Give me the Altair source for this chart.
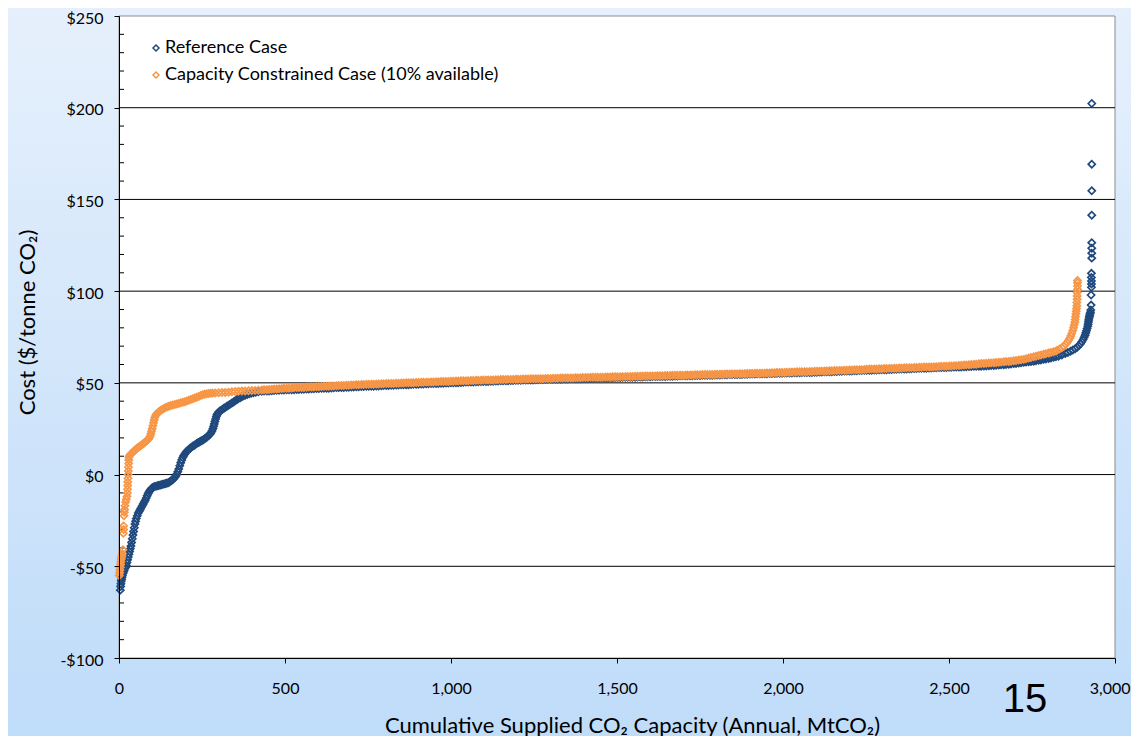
import altair as alt
import pandas as pd

SERIES = ["Reference Case", "Capacity Constrained Case (10% available)"]
COLORS = ["#1F497D", "#F79646"]

# ---- Reference Case (blue) ----
REF_X_START = [4, 5, 6, 7, 8, 9, 10, 12, 14, 16, 18, 20, 22, 24, 26, 28, 30, 32, 34, 36,
               38, 40, 42, 44, 46, 48, 50, 52, 55, 58, 61, 64, 67, 70, 73, 76, 79, 82, 85, 88,
               91, 94, 97, 100, 104, 108, 112, 116, 120, 124, 128, 132, 136, 140, 144, 148, 152, 156, 160, 164,
               168, 171, 174, 177, 180, 183, 186, 189, 192, 195, 198, 202, 206, 210, 214, 218, 222, 226, 230, 234,
               238, 242, 246, 250, 254, 258, 262, 266, 270, 274, 277, 280, 283, 285, 287, 289, 291, 293, 295, 297,
               300, 304, 308, 312, 316, 320, 325, 330, 335, 340, 345, 350, 355, 360, 365, 370, 375, 380, 386, 392,
               398, 405, 412, 420]
REF_Y_START = [-63, -61, -59.5, -58, -57, -56, -55, -54, -53, -52, -51, -50.5, -49.5, -48, -46.5, -45, -43.5, -42, -40.5, -39,
               -37, -35, -33, -31, -29, -27, -25.5, -24, -22.5, -21, -20, -19, -18, -17, -16, -15, -14, -12.8, -11.5, -10.3,
               -9.3, -8.5, -7.8, -7.2, -6.8, -6.5, -6.3, -6.1, -5.9, -5.7, -5.5, -5.3, -5.1, -4.9, -4.7, -4.4, -4.0, -3.5, -3.0, -2.4,
               -1.6, -0.8, 0.2, 1.5, 3, 4.8, 6.5, 8, 9.3, 10.3, 11.2, 12.2, 13, 13.7, 14.3, 14.9, 15.4, 15.9, 16.4, 16.9,
               17.4, 17.8, 18.2, 18.6, 19, 19.5, 20, 20.6, 21.3, 22, 22.8, 23.8, 25, 26.3, 27.6, 29, 30.3, 31.5, 32.5, 33.3,
               34, 34.6, 35.1, 35.6, 36.1, 36.6, 37.2, 37.8, 38.4, 39, 39.6, 40.2, 40.8, 41.4, 41.9, 42.4, 42.9, 43.3, 43.7, 44,
               44.3, 44.6, 44.9, 45.2]

FLAT_X = [430, 445, 460, 475, 490, 505, 520, 535, 550, 565,
          580, 595, 610, 625, 640, 655, 670, 685, 700, 715,
          730, 745, 760, 775, 790, 805, 820, 835, 850, 865,
          880, 895, 910, 925, 940, 955, 970, 985, 1000, 1015,
          1030, 1045, 1060, 1075, 1090, 1105, 1120, 1135, 1150, 1165,
          1180, 1195, 1210, 1225, 1240, 1255, 1270, 1285, 1300, 1315,
          1330, 1345, 1360, 1375, 1390, 1405, 1420, 1435, 1450, 1465,
          1480, 1495, 1510, 1525, 1540, 1555, 1570, 1585, 1600, 1615,
          1630, 1645, 1660, 1675, 1690, 1705, 1720, 1735, 1750, 1765,
          1780, 1795, 1810, 1825, 1840, 1855, 1870, 1885, 1900, 1915,
          1930, 1945, 1960, 1975, 1990, 2005, 2020, 2035, 2050, 2065,
          2080, 2095, 2110, 2125, 2140, 2155, 2170, 2185, 2200, 2215,
          2230, 2245, 2260, 2275, 2290, 2305, 2320, 2335, 2350, 2365,
          2380, 2395, 2410, 2425, 2440, 2455, 2470, 2485, 2500, 2515,
          2530, 2545, 2560, 2575, 2590, 2605, 2620, 2635, 2650, 2665,
          2680, 2695, 2710, 2725, 2740, 2755, 2770, 2785, 2800, 2815]

FLAT_X_B = [437, 452, 467, 482, 497, 512, 527, 542, 557, 572,
            587, 602, 617, 632, 647, 662, 677, 692, 707, 722,
            737, 752, 767, 782, 797, 812, 827, 842, 857, 872,
            887, 902, 917, 932, 947, 962, 977, 992, 1007, 1022,
            1037, 1052, 1067, 1082, 1097, 1112, 1127, 1142, 1157, 1172,
            1187, 1202, 1217, 1232, 1247, 1262, 1277, 1292, 1307, 1322,
            1337, 1352, 1367, 1382, 1397, 1412, 1427, 1442, 1457, 1472,
            1487, 1502, 1517, 1532, 1547, 1562, 1577, 1592, 1607, 1622,
            1637, 1652, 1667, 1682, 1697, 1712, 1727, 1742, 1757, 1772,
            1787, 1802, 1817, 1832, 1847, 1862, 1877, 1892, 1907, 1922,
            1937, 1952, 1967, 1982, 1997, 2012, 2027, 2042, 2057, 2072,
            2087, 2102, 2117, 2132, 2147, 2162, 2177, 2192, 2207, 2222,
            2237, 2252, 2267, 2282, 2297, 2312, 2327, 2342, 2357, 2372,
            2387, 2402, 2417, 2432, 2447, 2462, 2477, 2492, 2507, 2522,
            2537, 2552, 2567, 2582, 2597, 2612, 2627, 2642, 2657, 2672,
            2687, 2702, 2717, 2732, 2747, 2762, 2777, 2792, 2807, 2822]

REF_Y_FLAT = [45.4, 45.6, 45.7, 45.9, 46.1, 46.2, 46.3, 46.4, 46.5, 46.6,
              46.8, 46.9, 47.0, 47.1, 47.2, 47.4, 47.5, 47.6, 47.7, 47.9,
              48.0, 48.1, 48.2, 48.3, 48.4, 48.6, 48.7, 48.8, 48.9, 49.0,
              49.1, 49.3, 49.4, 49.5, 49.6, 49.7, 49.8, 49.9, 50.0, 50.1,
              50.2, 50.4, 50.5, 50.6, 50.7, 50.8, 50.9, 51.0, 51.1, 51.2,
              51.3, 51.4, 51.4, 51.5, 51.6, 51.7, 51.8, 51.8, 51.9, 52.0,
              52.0, 52.1, 52.2, 52.3, 52.3, 52.4, 52.5, 52.6, 52.6, 52.7,
              52.8, 52.9, 52.9, 53.0, 53.1, 53.1, 53.2, 53.3, 53.3, 53.4,
              53.5, 53.5, 53.6, 53.7, 53.8, 53.8, 53.9, 54.0, 54.0, 54.1,
              54.2, 54.3, 54.3, 54.4, 54.5, 54.5, 54.6, 54.7, 54.8, 54.8,
              54.9, 55.0, 55.1, 55.1, 55.2, 55.3, 55.4, 55.5, 55.5, 55.6,
              55.7, 55.8, 55.9, 56.0, 56.1, 56.2, 56.3, 56.4, 56.5, 56.6,
              56.7, 56.8, 56.9, 57.0, 57.1, 57.2, 57.3, 57.4, 57.5, 57.6,
              57.7, 57.8, 57.9, 58.0, 58.1, 58.2, 58.3, 58.4, 58.5, 58.6,
              58.7, 58.8, 58.9, 59.0, 59.1, 59.2, 59.3, 59.5, 59.7, 59.9,
              60.2, 60.5, 60.8, 61.2, 61.5, 61.8, 62.3, 62.8, 63.3, 63.9]

REF_Y_FLAT_B = [45.5, 45.6, 45.8, 46.0, 46.1, 46.2, 46.3, 46.4, 46.5, 46.7,
                46.8, 46.9, 47.0, 47.1, 47.3, 47.4, 47.5, 47.6, 47.8, 47.9,
                48.0, 48.1, 48.2, 48.3, 48.5, 48.6, 48.7, 48.8, 48.9, 49.0,
                49.2, 49.3, 49.4, 49.5, 49.6, 49.7, 49.8, 49.9, 50.0, 50.1,
                50.3, 50.4, 50.5, 50.6, 50.7, 50.8, 50.9, 51.0, 51.1, 51.2,
                51.3, 51.4, 51.5, 51.5, 51.6, 51.7, 51.8, 51.9, 51.9, 52.0,
                52.1, 52.1, 52.2, 52.3, 52.4, 52.4, 52.5, 52.6, 52.7, 52.7,
                52.8, 52.9, 53.0, 53.0, 53.1, 53.2, 53.2, 53.3, 53.4, 53.4,
                53.5, 53.6, 53.6, 53.7, 53.8, 53.9, 53.9, 54.0, 54.1, 54.1,
                54.2, 54.3, 54.4, 54.4, 54.5, 54.6, 54.6, 54.7, 54.8, 54.9,
                54.9, 55.0, 55.1, 55.2, 55.2, 55.3, 55.4, 55.5, 55.6, 55.6,
                55.7, 55.8, 55.9, 56.0, 56.1, 56.2, 56.3, 56.4, 56.5, 56.6,
                56.7, 56.8, 56.9, 57.0, 57.1, 57.2, 57.3, 57.4, 57.5, 57.6,
                57.7, 57.8, 57.9, 58.0, 58.1, 58.2, 58.3, 58.4, 58.5, 58.6,
                58.7, 58.8, 58.9, 59.0, 59.1, 59.2, 59.4, 59.6, 59.8, 60.0,
                60.3, 60.6, 61.0, 61.3, 61.6, 62.0, 62.5, 63.0, 63.6, 64.2]

REF_X_END = [2830, 2840, 2850, 2858, 2866, 2873, 2880, 2886, 2891, 2896,
             2900, 2904, 2907, 2910, 2912, 2914, 2916, 2918, 2919, 2920,
             2921, 2922, 2923, 2924, 2925, 2926, 2927, 2928, 2928, 2929,
             2929, 2929, 2929, 2929, 2930, 2930, 2930, 2930, 2930, 2930,
             2930, 2930]
REF_Y_END = [64.5, 65.2, 66.0, 66.6, 67.2, 67.9, 68.6, 69.4, 70.3, 71.3,
             72.4, 73.6, 74.8, 76.0, 77.2, 78.4, 79.6, 80.8, 82.0, 83.2,
             84.3, 85.3, 86.2, 87.0, 87.8, 88.5, 89.7, 92.4, 97.9, 102.1,
             103.9, 105.5, 107.5, 109.7, 118.0, 120.7, 123.4, 126.4, 141.4, 154.7,
             169.2, 202.3]

# ---- Capacity Constrained Case (orange) ----
CON_X_START = [1, 2, 3, 4, 5, 6, 7, 8, 9, 10,
               12, 13, 14, 14, 15, 16, 17, 18, 20, 22,
               24, 25, 25.5, 26, 26.5, 27, 27.5, 28, 28.5, 29,
               29.5, 30, 32, 36, 40, 44, 48, 52, 56, 60,
               64, 68, 72, 76, 80, 84, 88, 91, 94, 96,
               98, 100, 102, 104, 106, 108, 111, 114, 118, 122,
               126, 130, 135, 140, 145, 150, 156, 162, 168, 174,
               180, 186, 192, 198, 204, 210, 216, 222, 228, 234,
               240, 246, 252, 258, 264, 270, 276, 282, 290, 300,
               310, 320, 330, 340, 350, 360, 370, 380, 390, 400,
               410, 420]
CON_Y_START = [-55, -53.5, -52, -50.5, -49, -47.5, -46, -45, -44, -43,
               -41, -32, -30, -28, -22.5, -20.5, -19, -17, -15, -13.5,
               -12, -10, -8, -6, -4, -2, 0, 2, 4, 6,
               8, 9.5, 10.5, 11.2, 11.9, 12.6, 13.3, 14, 14.6, 15.1,
               15.6, 16.1, 16.7, 17.3, 17.9, 18.5, 19.2, 20, 21, 22.2,
               23.6, 25, 26.6, 28.2, 29.8, 31.2, 32.4, 33.2, 33.9, 34.5,
               35, 35.5, 36, 36.5, 36.9, 37.2, 37.6, 37.9, 38.2, 38.5,
               38.8, 39.1, 39.4, 39.7, 40.1, 40.5, 40.9, 41.3, 41.7, 42.1,
               42.6, 43.1, 43.5, 43.8, 44, 44.2, 44.3, 44.4, 44.5, 44.6,
               44.7, 44.8, 44.9, 45.1, 45.3, 45.4, 45.5, 45.6, 45.7, 45.8,
               45.9, 46.0]

CON_Y_FLAT = [46.1, 46.3, 46.5, 46.7, 46.9, 47.1, 47.2, 47.4, 47.5, 47.6,
              47.8, 47.9, 48.0, 48.2, 48.3, 48.4, 48.6, 48.7, 48.8, 49.0,
              49.1, 49.2, 49.3, 49.4, 49.5, 49.6, 49.7, 49.8, 49.9, 50.0,
              50.1, 50.2, 50.3, 50.4, 50.5, 50.6, 50.7, 50.8, 50.9, 51.0,
              51.1, 51.2, 51.3, 51.4, 51.4, 51.5, 51.6, 51.7, 51.8, 51.8,
              51.9, 52.0, 52.0, 52.1, 52.2, 52.2, 52.3, 52.4, 52.4, 52.5,
              52.6, 52.6, 52.7, 52.8, 52.8, 52.9, 53.0, 53.0, 53.1, 53.2,
              53.2, 53.3, 53.4, 53.4, 53.5, 53.6, 53.6, 53.7, 53.8, 53.8,
              53.9, 54.0, 54.0, 54.1, 54.2, 54.2, 54.3, 54.4, 54.4, 54.5,
              54.6, 54.6, 54.7, 54.8, 54.8, 54.9, 55.0, 55.0, 55.1, 55.2,
              55.2, 55.3, 55.4, 55.5, 55.6, 55.7, 55.8, 55.9, 56.0, 56.1,
              56.2, 56.3, 56.4, 56.5, 56.6, 56.7, 56.8, 56.9, 57.0, 57.1,
              57.2, 57.3, 57.5, 57.6, 57.7, 57.8, 57.9, 58.0, 58.1, 58.2,
              58.3, 58.4, 58.5, 58.6, 58.7, 58.8, 58.9, 59.1, 59.2, 59.3,
              59.5, 59.7, 59.9, 60.1, 60.4, 60.6, 60.8, 61.0, 61.2, 61.5,
              61.7, 62.0, 62.4, 62.8, 63.5, 64.2, 64.9, 65.6, 66.3, 67.0]

CON_Y_FLAT_B = [46.2, 46.4, 46.6, 46.8, 47.0, 47.1, 47.3, 47.4, 47.5, 47.7,
                47.8, 47.9, 48.1, 48.2, 48.3, 48.5, 48.6, 48.7, 48.9, 49.0,
                49.1, 49.2, 49.3, 49.4, 49.5, 49.6, 49.7, 49.8, 49.9, 50.0,
                50.1, 50.2, 50.3, 50.4, 50.5, 50.6, 50.7, 50.8, 50.9, 51.0,
                51.1, 51.2, 51.3, 51.4, 51.5, 51.5, 51.6, 51.7, 51.8, 51.9,
                51.9, 52.0, 52.1, 52.1, 52.2, 52.3, 52.3, 52.4, 52.5, 52.5,
                52.6, 52.7, 52.7, 52.8, 52.9, 52.9, 53.0, 53.1, 53.1, 53.2,
                53.3, 53.3, 53.4, 53.5, 53.5, 53.6, 53.7, 53.7, 53.8, 53.9,
                53.9, 54.0, 54.1, 54.1, 54.2, 54.3, 54.3, 54.4, 54.5, 54.5,
                54.6, 54.7, 54.7, 54.8, 54.9, 54.9, 55.0, 55.1, 55.1, 55.2,
                55.3, 55.4, 55.5, 55.6, 55.7, 55.8, 55.9, 56.0, 56.1, 56.1,
                56.2, 56.3, 56.4, 56.5, 56.6, 56.7, 56.8, 56.9, 57.0, 57.1,
                57.2, 57.4, 57.5, 57.6, 57.7, 57.8, 57.9, 58.0, 58.1, 58.2,
                58.3, 58.4, 58.5, 58.6, 58.7, 58.8, 59.0, 59.1, 59.2, 59.4,
                59.6, 59.8, 60.0, 60.2, 60.5, 60.7, 60.9, 61.1, 61.3, 61.6,
                61.8, 62.2, 62.6, 63.1, 63.8, 64.5, 65.2, 65.9, 66.6, 67.3]

CON_X_END = [2825, 2833, 2840, 2846, 2851, 2856, 2860, 2864, 2867, 2870,
             2873, 2875, 2877, 2879, 2880, 2881, 2882, 2883, 2884, 2885,
             2885, 2886, 2886, 2886, 2887, 2887, 2887, 2887]
CON_Y_END = [67.7, 68.4, 69.2, 70.0, 71.0, 72.0, 73.2, 74.3, 75.6, 77.0,
             78.5, 80.0, 81.5, 83.0, 84.5, 86.0, 87.5, 89.0, 90.5, 92.0,
             93.8, 95.6, 97.4, 99.2, 101.0, 102.8, 104.6, 105.8]

X_TICKS = [0, 500, 1000, 1500, 2000, 2500, 3000]
Y_TICKS = [-100, -50, 0, 50, 100, 150, 200, 250]
GRID_Y = [-50, 0, 50, 100, 150, 200]
MINOR_Y = [-90, -80, -70, -60, -40, -30, -20, -10, 10, 20, 30, 40, 60, 70, 80, 90,
           110, 120, 130, 140, 160, 170, 180, 190, 210, 220, 230, 240]
PAGE_NUMBER = ["15"]

X_TITLE = "Cumulative Supplied CO\u2082 Capacity (Annual, MtCO\u2082)"
Y_TITLE = "Cost ($/tonne CO\u2082)"

# ---- build tables ----
ref_x = REF_X_START + FLAT_X + FLAT_X_B + REF_X_END
ref_y = REF_Y_START + REF_Y_FLAT + REF_Y_FLAT_B + REF_Y_END
con_x = CON_X_START + FLAT_X + FLAT_X_B + CON_X_END
con_y = CON_Y_START + CON_Y_FLAT + CON_Y_FLAT_B + CON_Y_END
df = pd.DataFrame({
    "x": ref_x + con_x,
    "y": ref_y + con_y,
    "series": [SERIES[0]] * len(ref_x) + [SERIES[1]] * len(con_x),
})

W, H = 996, 642
PAD = {"left": 111, "top": 8, "right": 16, "bottom": 78}
FONT = "Lato"

xscale = alt.Scale(domain=[0, 3000], nice=False, zero=False)
yscale = alt.Scale(domain=[-100, 250], nice=False, zero=False)

X_AXIS = alt.Axis(
    values=X_TICKS, format=",d", title=X_TITLE, grid=False,
    labelFont=FONT, labelFontSize=16, labelColor="#000000", labelPadding=17,
    labelFlush=False,
    labelAlign={"condition": {"test": "datum.value == 3000", "value": "right"}, "value": "center"},
    labelOffset={"condition": {"test": "datum.value == 3000", "value": 15}, "value": 0},
    tickColor="#000000", tickSize=5, domainColor="#000000",
    titleFont=FONT, titleFontSize=22, titleFontWeight="normal", titleColor="#000000",
    titleX=513, titleY=67, titleBaseline="middle", zindex=1,
)
Y_AXIS = alt.Axis(
    values=Y_TICKS, title=Y_TITLE, grid=False,
    labelExpr="datum.value < 0 ? '-$' + abs(datum.value) : '$' + datum.value",
    labelFont=FONT, labelFontSize=16, labelColor="#000000", labelPadding=11, labelOffset=2,
    tickColor="#000000", tickSize=5, domainColor="#000000",
    titleFont=FONT, titleFontSize=22, titleFontWeight="normal", titleColor="#000000",
    titleX=-92, titleY=306, titleBaseline="middle", zindex=1,
)

one = pd.DataFrame({"a": [0]})

bg = alt.Chart(one).mark_rect(
    fill=alt.LinearGradient(
        gradient="linear",
        stops=[alt.GradientStop(color="#e6f0fc", offset=0),
               alt.GradientStop(color="#bfdcf9", offset=1)],
        x1=0, x2=0, y1=0, y2=1,
    )
).encode(
    x=alt.value(-PAD["left"]), x2=alt.value(W + PAD["right"]),
    y=alt.value(-PAD["top"]), y2=alt.value(H + PAD["bottom"]),
)

plotbg = alt.Chart(one).mark_rect(fill="white", stroke="#8c8c8c", strokeWidth=1).encode(
    x=alt.value(0), x2=alt.value(W), y=alt.value(0), y2=alt.value(H)
)

grid = alt.Chart(pd.DataFrame({"y": GRID_Y})).mark_rule(color="#000000", strokeWidth=1).encode(
    y=alt.Y("y:Q", scale=yscale, axis=Y_AXIS)
)

minor = alt.Chart(pd.DataFrame({"y": MINOR_Y})).mark_rule(color="#000000", strokeWidth=1).encode(
    x=alt.value(0), x2=alt.value(5),
    y=alt.Y("y:Q", scale=yscale, axis=Y_AXIS),
)

points = alt.Chart(df).mark_point(
    shape="diamond", filled=False, size=50, strokeWidth=1.7, opacity=1
).encode(
    x=alt.X("x:Q", scale=xscale, axis=X_AXIS),
    y=alt.Y("y:Q", scale=yscale, axis=Y_AXIS),
    color=alt.Color("series:N", scale=alt.Scale(domain=SERIES, range=COLORS), legend=alt.Legend(
        title=None, orient="none", legendX=28, legendY=23, padding=0,
        labelFont=FONT, labelFontSize=18, labelColor="#000000", labelOffset=0, labelLimit=0,
        symbolType="diamond", symbolSize=36, symbolStrokeWidth=1.5, rowPadding=9,
    )),
)

page = alt.Chart(pd.DataFrame({"t": PAGE_NUMBER})).mark_text(
    font="Liberation Sans", fontSize=40, color="#000000"
).encode(text="t:N", x=alt.value(906), y=alt.value(684))

chart = alt.layer(bg, plotbg, grid, minor, points, page).properties(
    width=W, height=H, padding=PAD, autosize=alt.AutoSizeParams(type="none"),
    background="#d4e6fa",
).configure_view(strokeWidth=0)

chart.save("out.html", embed_options={"renderer": "svg", "actions": False})
